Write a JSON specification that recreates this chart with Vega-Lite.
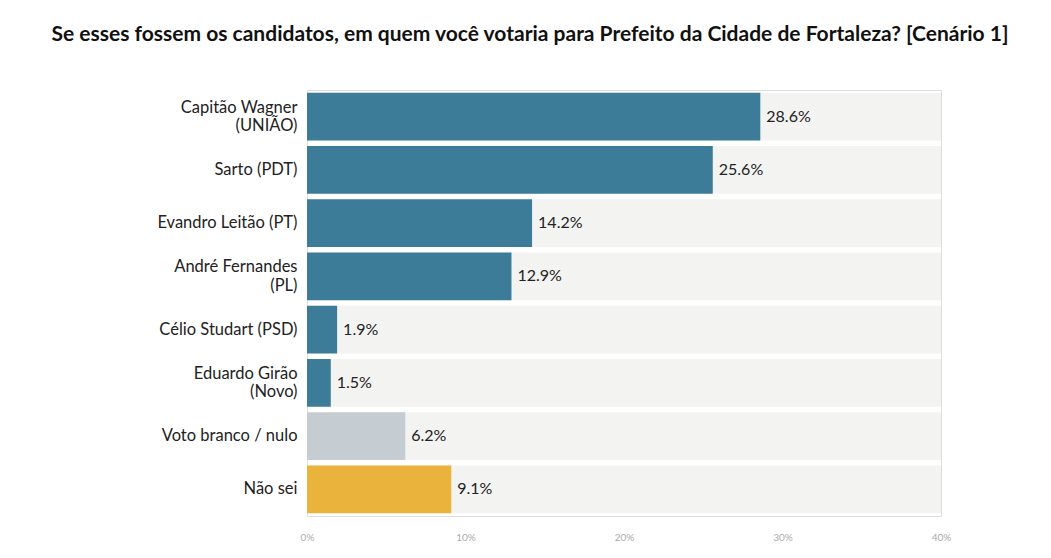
{
"$schema":"https://vega.github.io/schema/vega-lite/v6.json",
"autosize":"none","width":634,"height":426,
"padding":{"left":307,"top":90,"right":110,"bottom":42},
"background":"white",
"title":{"text":"Se esses fossem os candidatos, em quem você votaria para Prefeito da Cidade de Fortaleza? [Cenário 1]","font":"Lato","fontSize":21,"fontWeight":"bold","color":"#111","anchor":"middle","dx":-94,"offset":45},
"data":{"values":[
{"c":"Capitão Wagner|(UNIÃO)","v":28.6,"g":"a","max":40},
{"c":"Sarto (PDT)","v":25.6,"g":"a","max":40},
{"c":"Evandro Leitão (PT)","v":14.2,"g":"a","max":40},
{"c":"André Fernandes|(PL)","v":12.9,"g":"a","max":40},
{"c":"Célio Studart (PSD)","v":1.9,"g":"a","max":40},
{"c":"Eduardo Girão|(Novo)","v":1.5,"g":"a","max":40},
{"c":"Voto branco / nulo","v":6.2,"g":"b","max":40},
{"c":"Não sei","v":9.1,"g":"c","max":40}
]},
"encoding":{"y":{"field":"c","type":"nominal","sort":null,"title":null,
 "scale":{"paddingInner":0.1,"paddingOuter":0.05},
 "axis":{"domain":false,"ticks":false,"labelExpr":"split(datum.label,'|')","labelOffset":{"expr":"indexof(datum.value,'|')>=0 ? -9 : 0"},"labelFont":"Lato","labelFontSize":16.5,"labelColor":"#222","labelPadding":10,"labelLineHeight":18.5}}},
"layer":[
{"mark":{"type":"bar","color":"#f3f3f1"},"encoding":{"x":{"field":"max","type":"quantitative","scale":{"domain":[0,40]},"title":null,
 "axis":{"values":[0,10,20,30,40],"labelExpr":"datum.value+'%'","labelFlush":false,"domain":false,"ticks":false,"grid":false,"labelFont":"Lato","labelFontSize":10,"labelColor":"#aaa","labelPadding":16}}}},
{"mark":{"type":"bar"},"encoding":{"x":{"field":"v","type":"quantitative"},
 "color":{"field":"g","type":"nominal","legend":null,"scale":{"domain":["a","b","c"],"range":["#3d7c98","#c5cdd3","#e9b33c"]}}}},
{"mark":{"type":"text","align":"left","dx":6,"font":"Lato","fontSize":16,"color":"#222","text":{"expr":"format(datum.v,'.1f')+'%'"}},"encoding":{"x":{"field":"v","type":"quantitative"}}}
]
}
